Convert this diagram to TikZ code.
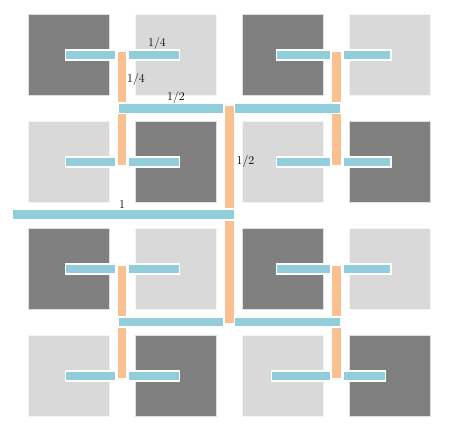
\documentclass[tikz,border=0pt]{standalone}

\definecolor{tiledark}{HTML}{808080}
\definecolor{tilelight}{HTML}{D9D9D9}
\definecolor{wireblue}{HTML}{92CDDC}
\definecolor{wireorange}{HTML}{FAC090}

\begin{document}
\begin{tikzpicture}[x=1pt, y=-1pt,
    % Tile styles
    darktile/.style={rectangle, draw=gray!25, fill=tiledark, line width=0.7pt,
                     minimum size=81pt, inner sep=0pt},
    lighttile/.style={rectangle, draw=gray!8, fill=tilelight, line width=0.7pt,
                      minimum size=81pt, inner sep=0pt},
    % Wire styles
    hwire/.style={fill=wireblue, draw=white, line width=1.5pt},
    vwire/.style={fill=wireorange, draw=white, line width=1.5pt},
    frac/.style={font=\fontsize{12}{14}\selectfont, inner sep=0pt}
]
\useasboundingbox (0,0) rectangle (465,426);

% Tiles (checkerboard)
\foreach \i in {0,...,3} {
    \foreach \j in {0,...,3} {
        \pgfmathtruncatemacro{\parity}{\i+\j}
        \ifodd\parity \def\tilestyle{lighttile}\else\def\tilestyle{darktile}\fi
        \node[\tilestyle] (tile-\i-\j) at ({68.75+107*\i},{55+107*\j}) {};
    }
}

% Level 1/4: horizontal wires
\foreach \cy in {55,162,269,376} {
    \path[hwire] (65.3,\cy-5) rectangle (116,\cy+5);
    \path[hwire] (128.3,\cy-5) rectangle (179.7,\cy+5);
}
\foreach \cy in {55,162,269} {
    \path[hwire] (276.4,\cy-5) rectangle (330.3,\cy+5);
    \path[hwire] (343,\cy-5) rectangle (391,\cy+5);
}
\path[hwire] (271.4,371) rectangle (330.3,381);
\path[hwire] (343,371) rectangle (385.6,381);

% Level 1/4: vertical wires
\foreach \cx in {122.2,336.7} {
    \path[vwire] (\cx-5,51) rectangle (\cx+5,103);
    \path[vwire] (\cx-5,113.6) rectangle (\cx+5,165.4);
    \path[vwire] (\cx-5,265) rectangle (\cx+5,316.7);
    \path[vwire] (\cx-5,327) rectangle (\cx+5,379);
}

% Level 1/2: horizontal wires
\foreach \cy in {108.5,321.9} {
    \path[hwire] (118.6,\cy-5) rectangle (224,\cy+5);
    \path[hwire] (234.3,\cy-5) rectangle (341,\cy+5);
}

% Level 1/2: vertical wire
\path[vwire] (224.6,105) rectangle (234.4,209);
\path[vwire] (224.6,220) rectangle (234.4,324);

% Level 1: root wire
\path[hwire] (12,209.3) rectangle (234.7,219.4);

% Labels
\node[frac] (lbl-quarter-h) at (157,43) {1/4};
\node[frac] (lbl-quarter-v) at (136,79) {1/4};
\node[frac] (lbl-half-h) at (176,97.5) {1/2};
\node[frac] (lbl-half-v) at (245.5,161.7) {1/2};
\node[frac] (lbl-one) at (122,205) {1};

\end{tikzpicture}
\end{document}
